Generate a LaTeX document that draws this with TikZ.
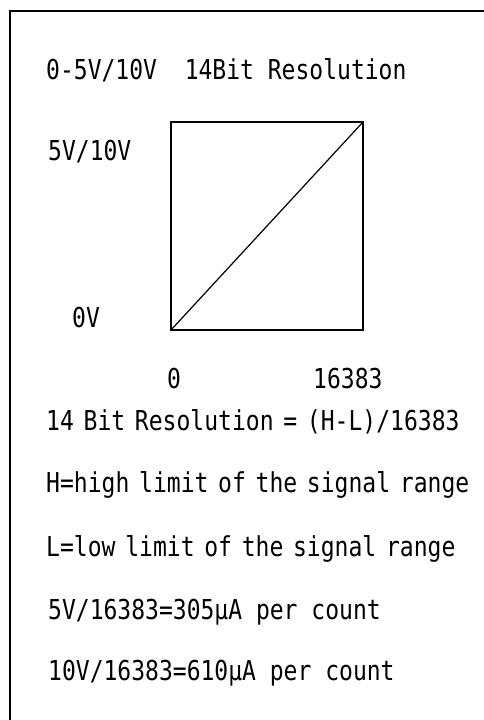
\documentclass[tikz,border=0pt]{standalone}
\usepackage{fontspec}
\newfontfamily\gothfont[FakeStretch=0.84]{DejaVu Sans Mono}
\newfontfamily\gothpfont[FakeStretch=0.841,WordSpace=0.7]{DejaVu Sans Mono}
\usepackage{tikz}
\usetikzlibrary{positioning,calc}

\tikzset{
  txt/.style={anchor=base west, inner sep=0pt, font=\gothfont\fontsize{27.4}{30}\selectfont},
  ptxt/.style={txt, font=\gothpfont\fontsize{27.4}{30}\selectfont},
  frame/.style={line width=1.6pt},
  chart/.style={line width=1.5pt}
}

\begin{document}
\begin{tikzpicture}[x=1pt, y=-1pt]
    \useasboundingbox (0,0) rectangle (483,720);
    \draw[frame] (10,730) -- (10,11) -- (490,11);
    % title and axis labels
    \node[txt] (title) at (46,79) {0-5V/10V\ \ 14Bit Resolution};
    \node[txt] (vhigh) at (48,160) {5V/10V};
    \node[txt] (vlow) at (72,327) {0V};
    % transfer curve
    \coordinate (bl) at (171,330);
    \coordinate (tr) at (363,122);
    \draw[chart] (bl) rectangle (tr);
    \draw[line width=1.2pt] (bl) -- (tr);
    \node[txt] (cmin) at (167,388) {0};
    \node[txt] (cmax) at (313,388) {16383};
    % notes
    \node[ptxt] (res) at (46,430) {14 Bit Resolution = (H-L)/16383};
    \node[ptxt] (hdef) at (46,492) {H=high limit of the signal range};
    \node[ptxt] (ldef) at (46,556) {L=low limit of the signal range};
    \node[txt] (cnt5) at (48,619) {5V/16383=305µA per count};
    \node[txt] (cnt10) at (48,680) {10V/16383=610µA per count};
  \end{tikzpicture}
\end{document}
